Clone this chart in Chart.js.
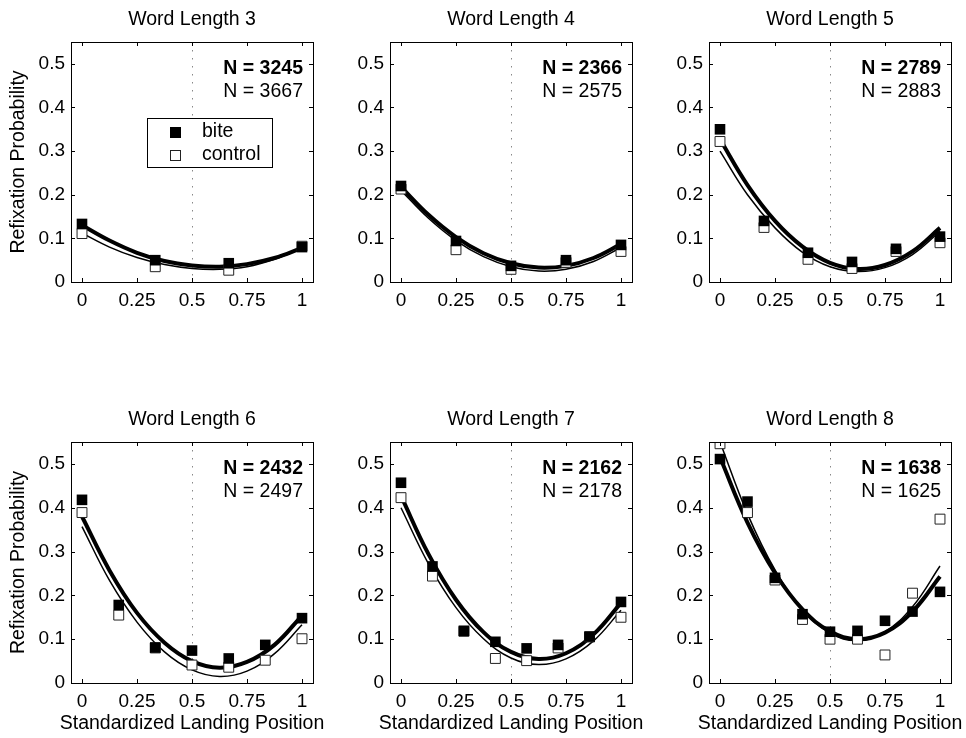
<!DOCTYPE html>
<html>
<head>
<meta charset="utf-8">
<title>Refixation probability by word length</title>
<script src="https://cdn.jsdelivr.net/npm/chart.js@4.4.0/dist/chart.umd.min.js"></script>
<style>
  html, body { margin: 0; padding: 0; background: #fff; overflow: hidden; }
  #wrap { position: relative; width: 966px; height: 738px; overflow: hidden; }
  #wrap canvas { position: absolute; }
</style>
</head>
<body>
<div id="wrap"></div>
<script>
// tick labels
const xTicks = [0, 0.25, 0.5, 0.75, 1];
const yTicks = [0, 0.1, 0.2, 0.3, 0.4, 0.5];
const midLine = 0.5;
const xLabel = 'Standardized Landing Position';
const yLabel = 'Refixation Probability';

const wordLengths = [3, 4, 5, 6, 7, 8];
const nBite = [3245, 2366, 2789, 2432, 2162, 1638];
const nControl = [3667, 2575, 2883, 2497, 2178, 1625];

const fitX = [0, 0.125, 0.25, 0.375, 0.5, 0.625, 0.75, 0.875, 1];

// word length 3
const pos3 = [0, 0.333, 0.667, 1];
const bite3 = [0.133, 0.050, 0.043, 0.080];
const ctrl3 = [0.111, 0.035, 0.027, 0.082];
const fitBite3 = [0.130, 0.095, 0.067, 0.048, 0.038, 0.035, 0.041, 0.055, 0.078];
const fitCtrl3 = [0.112, 0.080, 0.056, 0.040, 0.031, 0.029, 0.035, 0.052, 0.078];

// word length 4
const pos4 = [0, 0.25, 0.5, 0.75, 1];
const bite4 = [0.220, 0.094, 0.037, 0.050, 0.085];
const ctrl4 = [0.213, 0.074, 0.029, 0.045, 0.070];
const fitBite4 = [0.218, 0.154, 0.103, 0.066, 0.043, 0.033, 0.037, 0.055, 0.087];
const fitCtrl4 = [0.210, 0.146, 0.095, 0.058, 0.035, 0.025, 0.029, 0.047, 0.079];

// word length 5
const pos5 = [0, 0.2, 0.4, 0.6, 0.8, 1];
const bite5 = [0.350, 0.140, 0.067, 0.046, 0.076, 0.104];
const ctrl5 = [0.322, 0.125, 0.052, 0.031, 0.070, 0.090];
const fitBite5 = [0.327, 0.222, 0.140, 0.081, 0.044, 0.030, 0.039, 0.070, 0.124];
const fitCtrl5 = [0.300, 0.200, 0.124, 0.068, 0.035, 0.024, 0.033, 0.063, 0.116];

// word length 6
const pos6 = [0, 0.167, 0.333, 0.5, 0.667, 0.833, 1];
const bite6 = [0.418, 0.178, 0.081, 0.074, 0.056, 0.087, 0.148];
const ctrl6 = [0.389, 0.155, 0.080, 0.041, 0.036, 0.052, 0.101];
const fitBite6 = [0.380, 0.257, 0.160, 0.092, 0.050, 0.035, 0.048, 0.087, 0.154];
const fitCtrl6 = [0.357, 0.234, 0.139, 0.071, 0.030, 0.015, 0.027, 0.067, 0.133];

// word length 7
const pos7 = [0, 0.143, 0.286, 0.429, 0.571, 0.714, 0.857, 1];
const bite7 = [0.457, 0.266, 0.119, 0.094, 0.079, 0.087, 0.106, 0.185];
const ctrl7 = [0.423, 0.244, 0.118, 0.056, 0.051, 0.080, 0.105, 0.150];
const fitBite7 = [0.427, 0.294, 0.190, 0.116, 0.071, 0.055, 0.068, 0.111, 0.183];
const fitCtrl7 = [0.400, 0.272, 0.172, 0.101, 0.057, 0.042, 0.055, 0.096, 0.166];

// word length 8
const pos8 = [0, 0.125, 0.25, 0.375, 0.5, 0.625, 0.75, 0.875, 1];
const bite8 = [0.511, 0.414, 0.240, 0.157, 0.117, 0.119, 0.142, 0.163, 0.208];
const ctrl8 = [0.546, 0.389, 0.235, 0.145, 0.100, 0.100, 0.064, 0.205, 0.374];
const fitBite8 = [0.515, 0.366, 0.251, 0.168, 0.118, 0.100, 0.115, 0.163, 0.243];
const fitCtrl8 = [0.550, 0.386, 0.258, 0.168, 0.114, 0.097, 0.117, 0.174, 0.267];

const panels = [
  { pos: pos3, bite: bite3, ctrl: ctrl3, fitBite: fitBite3, fitCtrl: fitCtrl3 },
  { pos: pos4, bite: bite4, ctrl: ctrl4, fitBite: fitBite4, fitCtrl: fitCtrl4 },
  { pos: pos5, bite: bite5, ctrl: ctrl5, fitBite: fitBite5, fitCtrl: fitCtrl5 },
  { pos: pos6, bite: bite6, ctrl: ctrl6, fitBite: fitBite6, fitCtrl: fitCtrl6 },
  { pos: pos7, bite: bite7, ctrl: ctrl7, fitBite: fitBite7, fitCtrl: fitCtrl7 },
  { pos: pos8, bite: bite8, ctrl: ctrl8, fitBite: fitBite8, fitCtrl: fitCtrl8 }
];

const FONT = "'Liberation Sans', Arial, Helvetica, sans-serif";
const font = { family: FONT, size: 19, weight: 'normal' };
const titleFont = { family: FONT, size: 19.5, weight: 'normal' };
Chart.defaults.font.family = FONT;
Chart.defaults.color = '#000';

const toXY = (xs, ys) => xs.map((x, i) => ({ x: x, y: ys[i] }));

// dotted midline, box with inward ticks, N labels, legend, x label
const decoPlugin = {
  id: 'deco',
  beforeDatasetsDraw(chart) {
    const { ctx, chartArea: a, scales: { x } } = chart;
    const px = Math.round(x.getPixelForValue(midLine)) + 0.5;
    ctx.save();
    ctx.strokeStyle = '#888';
    ctx.lineWidth = 1;
    ctx.setLineDash([1.5, 6.5]);
    ctx.beginPath();
    ctx.moveTo(px, a.top);
    ctx.lineTo(px, a.bottom);
    ctx.stroke();
    ctx.restore();
  },
  afterDatasetsDraw(chart, args, opts) {
    const { ctx, chartArea: a, scales: { x, y } } = chart;
    const i = opts.index;
    ctx.save();
    ctx.strokeStyle = '#000';
    ctx.lineWidth = 1;
    ctx.strokeRect(Math.round(a.left) + 0.5, Math.round(a.top) + 0.5,
      Math.round(a.right - a.left), Math.round(a.bottom - a.top));
    ctx.beginPath();
    xTicks.forEach(v => {
      const px = Math.round(x.getPixelForValue(v)) + 0.5;
      ctx.moveTo(px, a.bottom); ctx.lineTo(px, a.bottom - 4);
      ctx.moveTo(px, a.top); ctx.lineTo(px, a.top + 4);
    });
    yTicks.forEach(v => {
      const py = Math.round(y.getPixelForValue(v)) + 0.5;
      ctx.moveTo(a.left, py); ctx.lineTo(a.left + 4, py);
      ctx.moveTo(a.right, py); ctx.lineTo(a.right - 4, py);
    });
    ctx.stroke();

    // N counts
    ctx.fillStyle = '#000';
    ctx.textAlign = 'right';
    ctx.textBaseline = 'middle';
    const nx = x.getPixelForValue(1) + 1;
    ctx.font = 'bold 19.5px ' + FONT;
    ctx.fillText('N = ' + nBite[i], nx, y.getPixelForValue(0.49));
    ctx.font = '19.5px ' + FONT;
    ctx.fillText('N = ' + nControl[i], nx, y.getPixelForValue(0.437));

    // x axis label on the bottom row, wider than the axis itself
    if (opts.row === 1) {
      ctx.textAlign = 'center';
      ctx.fillText(xLabel, (a.left + a.right) / 2, x.bottom - 14);
    }

    // legend only in the first panel
    if (i === 0) {
      const lx = a.left + 76, ly = a.top + 76;
      ctx.fillStyle = '#fff';
      ctx.fillRect(lx, ly, 125, 49);
      ctx.strokeRect(lx + 0.5, ly + 0.5, 125, 49);
      ctx.fillStyle = '#000';
      ctx.fillRect(a.left + 99, a.top + 85, 11, 11);
      ctx.fillStyle = '#fff';
      ctx.fillRect(a.left + 99, a.top + 108, 10, 10);
      ctx.strokeStyle = '#222';
      ctx.strokeRect(a.left + 99.5, a.top + 108.5, 10, 10);
      ctx.fillStyle = '#000';
      ctx.textAlign = 'left';
      ctx.fillText('bite', a.left + 131, a.top + 90);
      ctx.fillText('control', a.left + 131, a.top + 113);
    }
    ctx.restore();
  }
};

const wrap = document.getElementById('wrap');

panels.forEach((p, i) => {
  const col = i % 3;
  const row = Math.floor(i / 3);
  const canvas = document.createElement('canvas');
  const h = row === 0 ? 310 : 338;
  canvas.width = 330;
  canvas.height = h;
  canvas.style.left = (col * 319) + 'px';
  canvas.style.top = (row === 0 ? 0 : 400) + 'px';
  wrap.appendChild(canvas);

  new Chart(canvas, {
    type: 'scatter',
    data: {
      datasets: [
        {
          label: 'bite',
          data: toXY(p.pos, p.bite),
          pointStyle: 'rect',
          pointRadius: 7.5,
          pointHoverRadius: 7.5,
          backgroundColor: '#000',
          borderColor: '#000',
          borderWidth: 0,
          order: 0
        },
        {
          label: 'control',
          data: toXY(p.pos, p.ctrl),
          pointStyle: 'rect',
          pointRadius: 7,
          pointHoverRadius: 7,
          backgroundColor: '#fff',
          borderColor: '#222',
          borderWidth: 1,
          order: 1
        },
        {
          label: 'bite fit',
          data: toXY(fitX, p.fitBite),
          showLine: true,
          pointRadius: 0,
          borderColor: '#000',
          borderWidth: 4,
          tension: 0.4,
          order: 2
        },
        {
          label: 'control fit',
          data: toXY(fitX, p.fitCtrl),
          showLine: true,
          pointRadius: 0,
          borderColor: '#000',
          borderWidth: 1.5,
          tension: 0.4,
          order: 3
        }
      ]
    },
    options: {
      responsive: false,
      animation: false,
      devicePixelRatio: 1,
      events: [],
      layout: { padding: { left: 0, right: 17, top: 0, bottom: 0 } },
      plugins: {
        legend: { display: false },
        tooltip: { enabled: false },
        title: {
          display: true,
          text: 'Word Length ' + wordLengths[i],
          color: '#000',
          font: titleFont,
          fullSize: false,
          padding: { top: 8, bottom: 10.6 }
        },
        deco: { index: i, row: row }
      },
      scales: {
        x: {
          type: 'linear',
          min: -0.05,
          max: 1.05,
          afterBuildTicks: s => { s.ticks = xTicks.map(v => ({ value: v })); },
          afterFit: s => { s.height = row === 0 ? 28 : 55; },
          grid: { display: false, drawTicks: false },
          border: { display: false },
          ticks: { color: '#000', font: font, padding: 7, maxRotation: 0, autoSkip: false, callback: v => String(v) }
        },
        y: {
          type: 'linear',
          min: 0,
          max: 0.55,
          afterBuildTicks: s => { s.ticks = yTicks.map(v => ({ value: v })); },
          afterFit: s => { s.width = 71; },
          grid: { display: false, drawTicks: false },
          border: { display: false },
          ticks: { color: '#000', font: font, padding: 6, autoSkip: false, callback: v => String(v) },
          title: {
            display: col === 0,
            text: yLabel,
            color: '#000',
            font: titleFont,
            padding: { top: 7, bottom: 0 }
          }
        }
      }
    },
    plugins: [decoPlugin]
  });
});
</script>
</body>
</html>
